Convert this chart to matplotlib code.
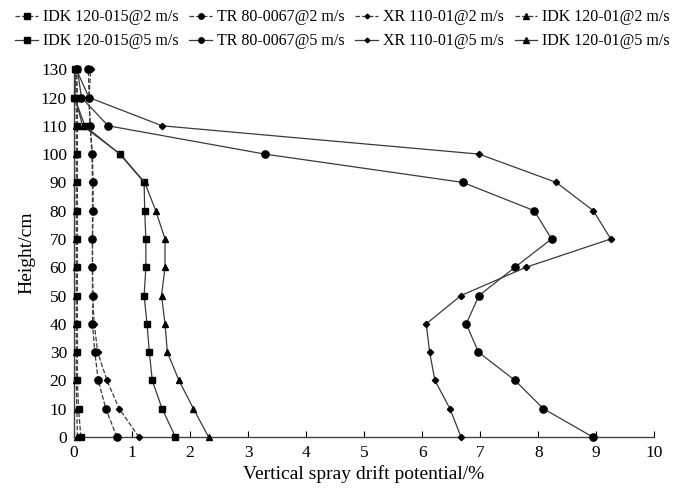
import matplotlib
matplotlib.use("Agg")
import matplotlib.pyplot as plt

plt.rcParams['font.family'] = ['Liberation Serif', 'DejaVu Serif']

heights = [0, 10, 20, 30, 40, 50, 60, 70, 80, 90, 100, 110, 120, 130]

idk015_2 = [0.12, 0.08, 0.06, 0.06, 0.06, 0.06, 0.06, 0.06, 0.06, 0.06, 0.06, 0.06, 0.06, 0.05]
tr_2 = [0.74, 0.55, 0.42, 0.36, 0.32, 0.33, 0.32, 0.32, 0.33, 0.33, 0.32, 0.28, 0.26, 0.25]
xr_2 = [1.12, 0.78, 0.57, 0.41, 0.35, 0.32, 0.32, 0.32, 0.32, 0.32, 0.31, 0.28, 0.26, 0.29]
idk01_2 = [0.06, 0.05, 0.04, 0.04, 0.04, 0.04, 0.04, 0.04, 0.04, 0.04, 0.04, 0.04, 0.04, 0.04]

idk015_5 = [1.75, 1.52, 1.35, 1.30, 1.26, 1.21, 1.24, 1.24, 1.22, 1.21, 0.79, 0.19, 0.01, 0.02]
tr_5 = [8.94, 8.09, 7.60, 6.97, 6.76, 6.98, 7.60, 8.23, 7.93, 6.70, 3.29, 0.59, 0.13, 0.06]
xr_5 = [6.67, 6.48, 6.22, 6.13, 6.07, 6.67, 7.79, 9.25, 8.95, 8.31, 6.98, 1.52, 0.26, 0.04]
idk01_5 = [2.32, 2.06, 1.81, 1.61, 1.57, 1.51, 1.57, 1.57, 1.41, 1.22, 0.80, 0.15, 0.02, 0.02]

labels = ["IDK 120-015@2 m/s", "TR 80-0067@2 m/s", "XR 110-01@2 m/s", "IDK 120-01@2 m/s",
          "IDK 120-015@5 m/s", "TR 80-0067@5 m/s", "XR 110-01@5 m/s", "IDK 120-01@5 m/s"]
series = [idk015_2, tr_2, xr_2, idk01_2, idk015_5, tr_5, xr_5, idk01_5]
markers = ['s', 'o', 'D', '^', 's', 'o', 'D', '^']
msizes = [5, 5.2, 3.2, 5, 5, 5.2, 3.2, 5]
styles = ['--'] * 4 + ['-'] * 4

fig = plt.figure(figsize=(6.78, 4.91), dpi=100)
ax = fig.add_axes([0.109, 0.110, 0.856, 0.749])

handles = []
for vals, lab, mk, ms, ls in zip(series, labels, markers, msizes, styles):
    h, = ax.plot(vals, heights, linestyle=ls, color='#3a3a3a', linewidth=0.9,
                 marker=mk, markersize=ms, markerfacecolor='black',
                 markeredgecolor='black', label=lab, clip_on=False, zorder=3)
    handles.append(h)

ax.set_xlim(0, 10)
ax.set_ylim(0, 130)
ax.set_xticks(range(0, 11))
ax.set_yticks(range(0, 131, 10))
ax.spines['top'].set_visible(False)
ax.spines['right'].set_visible(False)
for s in ['left', 'bottom']:
    ax.spines[s].set_color('#444444')
    ax.spines[s].set_linewidth(1.0)
ax.tick_params(direction='in', length=4, width=0.8, labelsize=12.5, colors='black', pad=5)
ax.tick_params(axis='x', pad=6)
ax.set_xlabel("Vertical spray drift potential/%", fontsize=14, labelpad=3)
ax.set_ylabel("Height/cm", fontsize=14, labelpad=4)

order = [0, 4, 1, 5, 2, 6, 3, 7]
fig.legend(handles=[handles[i] for i in order], labels=[labels[i] for i in order],
           ncol=4, loc='upper center',
           bbox_to_anchor=(0.505, 1.01), frameon=False, fontsize=11.5,
           handlelength=1.4, handletextpad=0.3, columnspacing=0.7,
           labelspacing=0.5, markerscale=0.75)

fig.savefig("out.png", dpi=100)
